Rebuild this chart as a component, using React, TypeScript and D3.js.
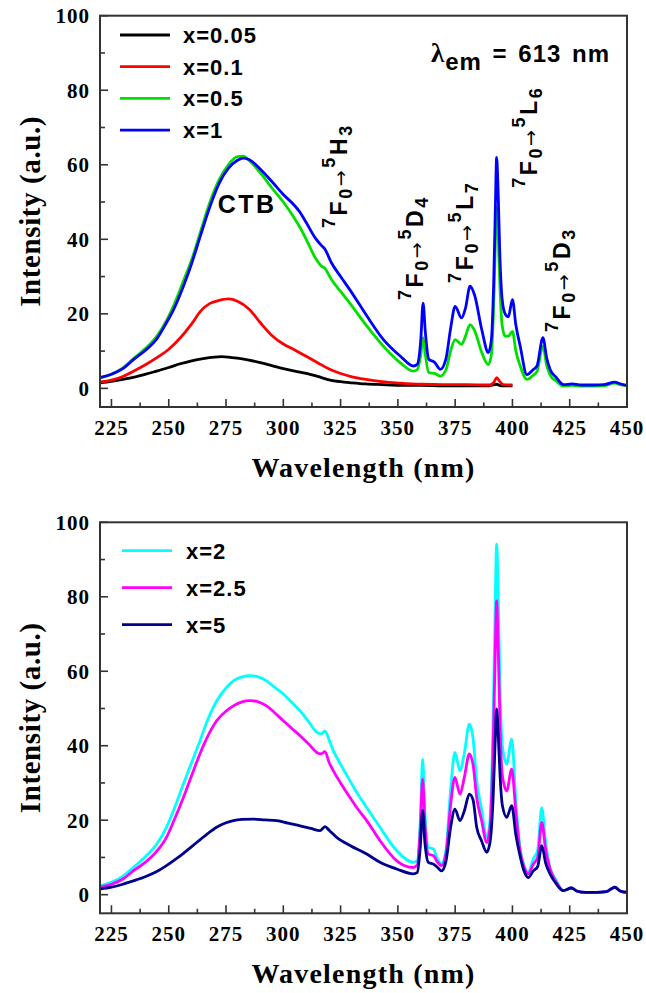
import React from "react";
import * as d3 from "d3";

type Pt = [number, number];

// Axis ticks (wavelength in nm, intensity in a.u.)
const xMajorTicks = [225, 250, 275, 300, 325, 350, 375, 400, 425, 450];
const xMinorTicks = [237.5, 262.5, 287.5, 312.5, 337.5, 362.5, 387.5, 412.5, 437.5];
const yMajorTicks = [0, 20, 40, 60, 80, 100];
const yMinorTicks = [10, 30, 50, 70, 90];

// Excitation spectra, lambda_em = 613 nm — upper panel
const specX005: Pt[] = [
  [220, 1.5], [225, 1.9], [230, 2.4], [235, 3.0], [240, 3.8], [245, 4.7], [250, 5.6], [255, 6.6],
  [260, 7.4], [265, 8.0], [270, 8.4], [273, 8.5], [276, 8.4], [280, 8.1], [285, 7.6], [290, 6.9],
  [295, 6.1], [300, 5.3], [305, 4.6], [310, 4.0], [315, 3.2], [320, 2.3], [325, 1.8], [330, 1.5],
  [336, 1.2], [343, 1.0], [351, 0.8], [360, 0.8], [370, 0.7], [380, 0.7], [390, 0.7], [393, 1.1],
  [395, 0.7], [400, 0.7],
];
const specX01: Pt[] = [
  [220, 1.7], [225, 2.2], [230, 3.2], [235, 4.7], [240, 6.4], [245, 8.3], [250, 10.5], [255, 13.5],
  [260, 17.3], [264, 20.8], [268, 22.8], [272, 23.6], [276, 24.0], [280, 23.4], [285, 21.3], [290, 17.6],
  [295, 14.2], [300, 11.9], [305, 10.3], [310, 8.6], [315, 6.9], [320, 5.2], [325, 4.0], [330, 3.1],
  [336, 2.4], [343, 1.8], [351, 1.4], [360, 1.1], [370, 1.0], [380, 1.0], [390, 0.9], [391.8, 1.5],
  [393.1, 2.9], [394.5, 1.8], [396, 1.0], [400, 0.9],
];
const specX05: Pt[] = [
  [220, 2.8], [225, 3.8], [230, 5.5], [235, 8.2], [240, 10.8], [245, 14.2], [249, 18.2], [252, 22],
  [256.4, 28.8], [260, 34.5], [263.6, 41.5], [268, 50], [272, 56], [276, 60], [280, 62.2], [282.5, 62.3],
  [285, 61.2], [290, 57.8], [295, 53.8], [300, 50], [305, 45.5], [307, 43.5], [310, 40], [314, 35],
  [316.7, 32.8], [318, 32.3], [321, 29.2], [325, 26], [329, 22.9], [336.5, 16.7], [343.7, 11.3], [351, 6.9],
  [356.8, 4.6], [358.5, 5], [360, 9], [361, 13.6], [362, 9], [363.5, 4.2], [366, 4], [368.5, 3.3],
  [371, 5], [373, 10], [375, 13.1], [377.8, 11.8], [379.5, 14], [381.5, 17.1], [383.5, 15.5], [386.6, 9.6],
  [389.5, 6.4], [390.8, 9], [391.8, 22], [392.6, 40], [393.1, 48.6], [393.7, 43], [394.5, 28], [395.5, 17],
  [396.8, 14], [398.2, 14], [400, 15.3], [401.5, 10], [403.4, 6], [406.3, 2.4], [409, 3.5], [410.7, 4.5],
  [413.3, 11.3], [415, 6], [416.5, 3.5], [419, 2], [422.3, 0.6], [426, 0.8], [430, 0.6], [435, 0.6],
  [440, 0.7], [444.6, 1.4], [447, 1], [450, 0.7],
];
const specX1: Pt[] = [
  [220, 2.9], [225, 3.8], [230, 5.3], [235, 7.9], [240, 10.3], [245, 13.5], [249, 17.6], [252, 21],
  [256.4, 27.4], [260, 33.5], [263.6, 40.5], [268, 48.8], [272, 55], [276, 59], [280, 61.2], [282.5, 61.8],
  [285, 61.4], [290, 58.8], [295, 55.5], [300, 52], [305, 49], [307, 47.5], [310, 44.5], [314, 40.3],
  [316.7, 38.3], [318, 37.5], [321, 33.7], [325, 30], [329, 26.5], [336.5, 19.4], [343.7, 13.1], [351, 8.7],
  [356.8, 6], [358.5, 6.5], [360, 13], [361, 22.9], [362, 15], [363.5, 7.8], [366, 7], [368.5, 5.1],
  [371, 8], [373, 16], [375, 22], [377.8, 18.9], [379.5, 21.5], [381.5, 27.4], [383.5, 25], [386.6, 15.8],
  [389.5, 9.6], [390.8, 13], [391.8, 28], [392.6, 50], [393.1, 62], [393.7, 54], [394.5, 36], [395.5, 24],
  [396.8, 20], [398.2, 19.2], [400, 23.8], [401.5, 17], [403.4, 11.3], [406.3, 3.7], [409, 5], [410.7, 6],
  [413.3, 13.6], [415, 8], [416.5, 5], [419, 3], [422.3, 1], [426, 1.2], [430, 0.9], [435, 0.9],
  [440, 1], [444.6, 1.7], [447, 1.2], [450, 0.8],
];

// Lower panel
const specX2: Pt[] = [
  [220, 2.4], [225, 3.3], [230, 5], [234.5, 7.3], [240, 10.3], [245, 13.8], [249, 18.1], [252, 22.5],
  [256.4, 29.7], [260, 35.5], [263.6, 41.3], [267, 47], [270.9, 52], [275, 55.5], [278.2, 57.4], [282, 58.5],
  [285.5, 58.8], [289, 58.5], [292.7, 57.4], [296, 55.8], [300, 53.9], [304, 51.5], [307.3, 49.4], [311, 46.5],
  [314.6, 43.6], [316.5, 43.2], [318.2, 44], [320, 41.5], [321.8, 38.7], [325, 35], [329.1, 30.6], [332.5, 27],
  [336.4, 23.4], [342.2, 18.1], [349.5, 11.8], [356.7, 8.7], [358.5, 9.2], [359.8, 20], [360.8, 36.4], [361.8, 22],
  [363.3, 12.7], [365.5, 12.3], [367, 10], [369.1, 8.2], [371, 12], [373, 28], [374.9, 38.2], [377.1, 33.3],
  [379, 38], [381.2, 45.8], [382.8, 42], [384.4, 30.6], [386.5, 23], [388.8, 15.4], [390.2, 20], [391.5, 45],
  [392.4, 75], [393.1, 94.1], [393.8, 80], [394.6, 55], [395.6, 40], [397.5, 35.1], [399.7, 41.8], [401.5, 25],
  [403.3, 12.7], [405, 8], [406.9, 6], [409.1, 9.6], [411, 12], [412.8, 23.4], [414.5, 14], [416.4, 7.3],
  [419, 4], [422.2, 1.1], [425.8, 1.8], [428, 1], [432, 0.6], [436.8, 0.6], [441, 0.8], [444.7, 2],
  [447, 1], [450, 0.6],
];
const specX25: Pt[] = [
  [220, 2], [225, 2.8], [230, 4.2], [234.5, 6.4], [240, 8.8], [245, 11.8], [249, 15.4], [252, 19.5],
  [256.4, 26.1], [260, 32], [263.6, 37.8], [267, 42.5], [270.9, 46.7], [275, 49.3], [278.2, 50.7], [282, 51.8],
  [285.5, 52.1], [289, 51.8], [292.7, 50.7], [296, 49], [300, 46.7], [304, 44.5], [307.3, 42.7], [311, 40.5],
  [314.6, 38.2], [316.5, 37.8], [318.2, 38.4], [320, 35.5], [321.8, 33.3], [325, 30], [329.1, 26.1], [332.5, 23],
  [336.4, 19.9], [342.2, 14.5], [349.5, 9.1], [356.7, 7.3], [358.5, 8], [359.8, 18], [360.8, 31], [361.8, 19],
  [363.3, 10.9], [365.5, 10.5], [367, 9], [369.1, 7.8], [371, 11], [373, 24], [374.9, 31.5], [377.1, 27],
  [379, 31.5], [381.2, 37.8], [382.8, 35], [384.4, 26.1], [386.5, 20], [388.8, 14], [390.2, 18], [391.5, 38],
  [392.4, 62], [393.1, 78.9], [393.8, 66], [394.6, 45], [395.6, 32], [397.5, 27.9], [399.7, 33.7], [401.5, 22],
  [403.3, 11.8], [405, 7.5], [406.9, 5.6], [409.1, 8.2], [411, 10], [412.8, 19.4], [414.5, 12], [416.4, 6.9],
  [419, 3.5], [422.2, 1.1], [425.8, 1.8], [428, 1], [432, 0.6], [436.8, 0.6], [441, 0.8], [444.7, 2],
  [447, 1], [450, 0.6],
];
const specX5: Pt[] = [
  [220, 1.5], [225, 2], [230, 2.8], [234.5, 3.7], [240, 4.9], [245, 6.3], [249, 7.8], [252, 9.1],
  [256.4, 11.1], [260, 12.9], [263.6, 14.7], [267, 16.4], [270.9, 18.1], [275, 19.3], [278.2, 19.9], [282, 20.2],
  [286.9, 20.3], [292, 20.1], [297.2, 19.9], [302, 19.2], [307.3, 18.5], [312, 17.8], [316, 17.2], [318.2, 18.3],
  [320, 17.3], [323.3, 15.4], [329.1, 13.2], [336.4, 10.9], [342.2, 8.7], [349.5, 6.9], [356.7, 5.6], [358.5, 6],
  [359.8, 13], [360.8, 22.6], [361.8, 14], [363.3, 8.7], [365.5, 8.2], [367, 7.5], [369.1, 6.4], [371, 9],
  [373, 18], [374.9, 23], [377.1, 19.9], [379, 22.5], [381.2, 27], [382.8, 25.5], [384.4, 18.1], [386.5, 14.5],
  [388.8, 11.4], [390.2, 14], [391.5, 25], [392.4, 40], [393.1, 49.9], [393.8, 43], [394.6, 32], [395.6, 24],
  [397.5, 20.8], [399.7, 23.9], [401.5, 16], [403.3, 10.5], [405, 6.5], [406.9, 4.6], [409.1, 6.4], [411, 7.5],
  [412.8, 13.2], [414.5, 8.5], [416.4, 5.6], [419, 3], [422.2, 1.1], [425.8, 1.8], [428, 1], [432, 0.6],
  [436.8, 0.6], [441, 0.8], [444.7, 2], [447, 1], [450, 0.6],
];

const seriesUpper = [
  { label: "x=0.05", color: "#000000", data: specX005 },
  { label: "x=0.1", color: "#ff0000", data: specX01 },
  { label: "x=0.5", color: "#00e000", data: specX05 },
  { label: "x=1", color: "#0000ff", data: specX1 },
];
const seriesLower = [
  { label: "x=2", color: "#00ffff", data: specX2 },
  { label: "x=2.5", color: "#ff00ff", data: specX25 },
  { label: "x=5", color: "#00008e", data: specX5 },
];

// Transition labels: [upper term letter, upper term J, wavelength, intensity at label start]
const transitions: [string, string, number, number][] = [
  ["H", "3", 327.7, 43.0],
  ["D", "4", 361.0, 23.7],
  ["L", "7", 382.8, 28.3],
  ["L", "6", 410.7, 53.8],
  ["D", "3", 425.1, 15.1],
];

const W = 646;
const H = 993;
const LEFT = 100;
const RIGHT = 627;
const SERIF = "'Liberation Serif', 'Times New Roman', serif";
const SANS = "'Liberation Sans', Arial, sans-serif";
const ARROW_FONT = "'DejaVu Sans', sans-serif";
const AXIS = "#333";

type PanelProps = {
  top: number;
  bottom: number;
  series: { label: string; color: string; data: Pt[] }[];
  legendTop: number;
  legendStep: number;
  legendLineX: [number, number];
  legendTextX: number;
  upper: boolean;
};

function Panel({ top, bottom, series, legendTop, legendStep, legendLineX, legendTextX, upper }: PanelProps) {
  const x = d3.scaleLinear().domain([220, 450]).range([LEFT, RIGHT]);
  const y = d3.scaleLinear().domain([-5, 100]).range([bottom, top]);
  const line = d3
    .line<Pt>()
    .x((d) => x(d[0]))
    .y((d) => y(d[1]))
    .curve(d3.curveMonotoneX);

  const midY = (top + bottom) / 2;
  const midX = (LEFT + RIGHT) / 2;

  return (
    <g>
      <defs>
        <clipPath id={`clip-${top}`}>
          <rect x={LEFT} y={top} width={RIGHT - LEFT} height={bottom - top} />
        </clipPath>
      </defs>

      {/* spectra */}
      <g clipPath={`url(#clip-${top})`}>
        {series.map((s) => (
          <path
            key={s.label}
            d={line(s.data) ?? ""}
            fill="none"
            stroke={s.color}
            strokeWidth={2.8}
            strokeLinejoin="round"
          />
        ))}
      </g>

      {/* frame */}
      <rect x={LEFT} y={top} width={RIGHT - LEFT} height={bottom - top} fill="none" stroke={AXIS} strokeWidth={2} />

      {/* x ticks (inward) */}
      {xMajorTicks.map((t) => (
        <line key={`xM${t}`} x1={x(t)} x2={x(t)} y1={bottom} y2={bottom - 8} stroke={AXIS} strokeWidth={1.6} />
      ))}
      {xMinorTicks.map((t) => (
        <line key={`xm${t}`} x1={x(t)} x2={x(t)} y1={bottom} y2={bottom - 4.5} stroke={AXIS} strokeWidth={1.6} />
      ))}
      {xMajorTicks.map((t) => (
        <text
          key={`xl${t}`}
          x={x(t)}
          y={bottom + 28}
          textAnchor="middle"
          fontFamily={SERIF}
          fontWeight="bold"
          fontSize={21}
          letterSpacing={1}
        >
          {t}
        </text>
      ))}

      {/* y ticks (inward) */}
      {yMajorTicks.map((t) => (
        <line key={`yM${t}`} x1={LEFT} x2={LEFT + 8} y1={y(t)} y2={y(t)} stroke={AXIS} strokeWidth={1.6} />
      ))}
      {yMinorTicks.map((t) => (
        <line key={`ym${t}`} x1={LEFT} x2={LEFT + 5} y1={y(t)} y2={y(t)} stroke={AXIS} strokeWidth={1.6} />
      ))}
      {yMajorTicks.map((t) => (
        <text
          key={`yl${t}`}
          x={90}
          y={y(t)}
          dy="0.35em"
          textAnchor="end"
          fontFamily={SERIF}
          fontWeight="bold"
          fontSize={21}
          letterSpacing={1}
        >
          {t}
        </text>
      ))}

      {/* axis titles */}
      <text
        x={midX}
        y={bottom + 70}
        textAnchor="middle"
        fontFamily={SERIF}
        fontWeight="bold"
        fontSize={28}
        letterSpacing={1.2}
      >
        Wavelength (nm)
      </text>
      <text
        transform={`translate(40,${midY}) rotate(-90)`}
        textAnchor="middle"
        fontFamily={SERIF}
        fontWeight="bold"
        fontSize={29}
        letterSpacing={0.6}
      >
        Intensity (a.u.)
      </text>

      {/* legend */}
      {series.map((s, i) => {
        const ly = legendTop + i * legendStep;
        return (
          <g key={`lg${s.label}`}>
            <line x1={legendLineX[0]} x2={legendLineX[1]} y1={ly} y2={ly} stroke={s.color} strokeWidth={2.8} />
            <text
              x={legendTextX}
              y={ly}
              dy="0.36em"
              fontFamily={SANS}
              fontWeight="bold"
              fontSize={22}
              letterSpacing={1}
            >
              {s.label}
            </text>
          </g>
        );
      })}

      {upper && (
        <g fontFamily={SANS} fontWeight="bold">
          <text x={610} y={62} textAnchor="end" fontSize={24} letterSpacing={1} wordSpacing={3}>
            <tspan fontFamily={SERIF} fontSize={27}>λ</tspan>
            <tspan dy={8} fontSize={24}>em</tspan>
            <tspan dy={-8}> = 613 nm</tspan>
          </text>
          <text x={x(284.2)} y={y(47.1)} textAnchor="middle" fontSize={25} letterSpacing={2.5}>
            CTB
          </text>
          {transitions.map(([term, j, wl, v]) => (
            <text
              key={`tr${term}${j}`}
              transform={`translate(${x(wl)},${y(v)}) rotate(-90)`}
              fontSize={23}
              letterSpacing={2.6}
            >
              <tspan fontSize={18} dy={-12}>7</tspan>
              <tspan dy={12}>F</tspan>
              <tspan fontSize={18} dy={5}>0</tspan>
              <tspan dy={-5} fontFamily={ARROW_FONT} fontWeight="normal" fontSize={19}>→</tspan>
              <tspan fontSize={18} dy={-12}>5</tspan>
              <tspan dy={12}>{term}</tspan>
              <tspan fontSize={18} dy={5}>{j}</tspan>
            </text>
          ))}
        </g>
      )}
    </g>
  );
}

export default function App() {
  return (
    <svg
      width={W}
      height={H}
      viewBox={`0 0 ${W} ${H}`}
      style={{ position: "absolute", left: 0, top: 0, background: "#fff" }}
    >
      <rect width={W} height={H} fill="#fff" />
      <Panel
        top={15.7}
        bottom={407}
        series={seriesUpper}
        legendTop={35}
        legendStep={31.7}
        legendLineX={[120, 170]}
        legendTextX={183}
        upper={true}
      />
      <Panel
        top={522.3}
        bottom={913.3}
        series={seriesLower}
        legendTop={550.7}
        legendStep={37}
        legendLineX={[122, 172]}
        legendTextX={186}
        upper={false}
      />
    </svg>
  );
}
